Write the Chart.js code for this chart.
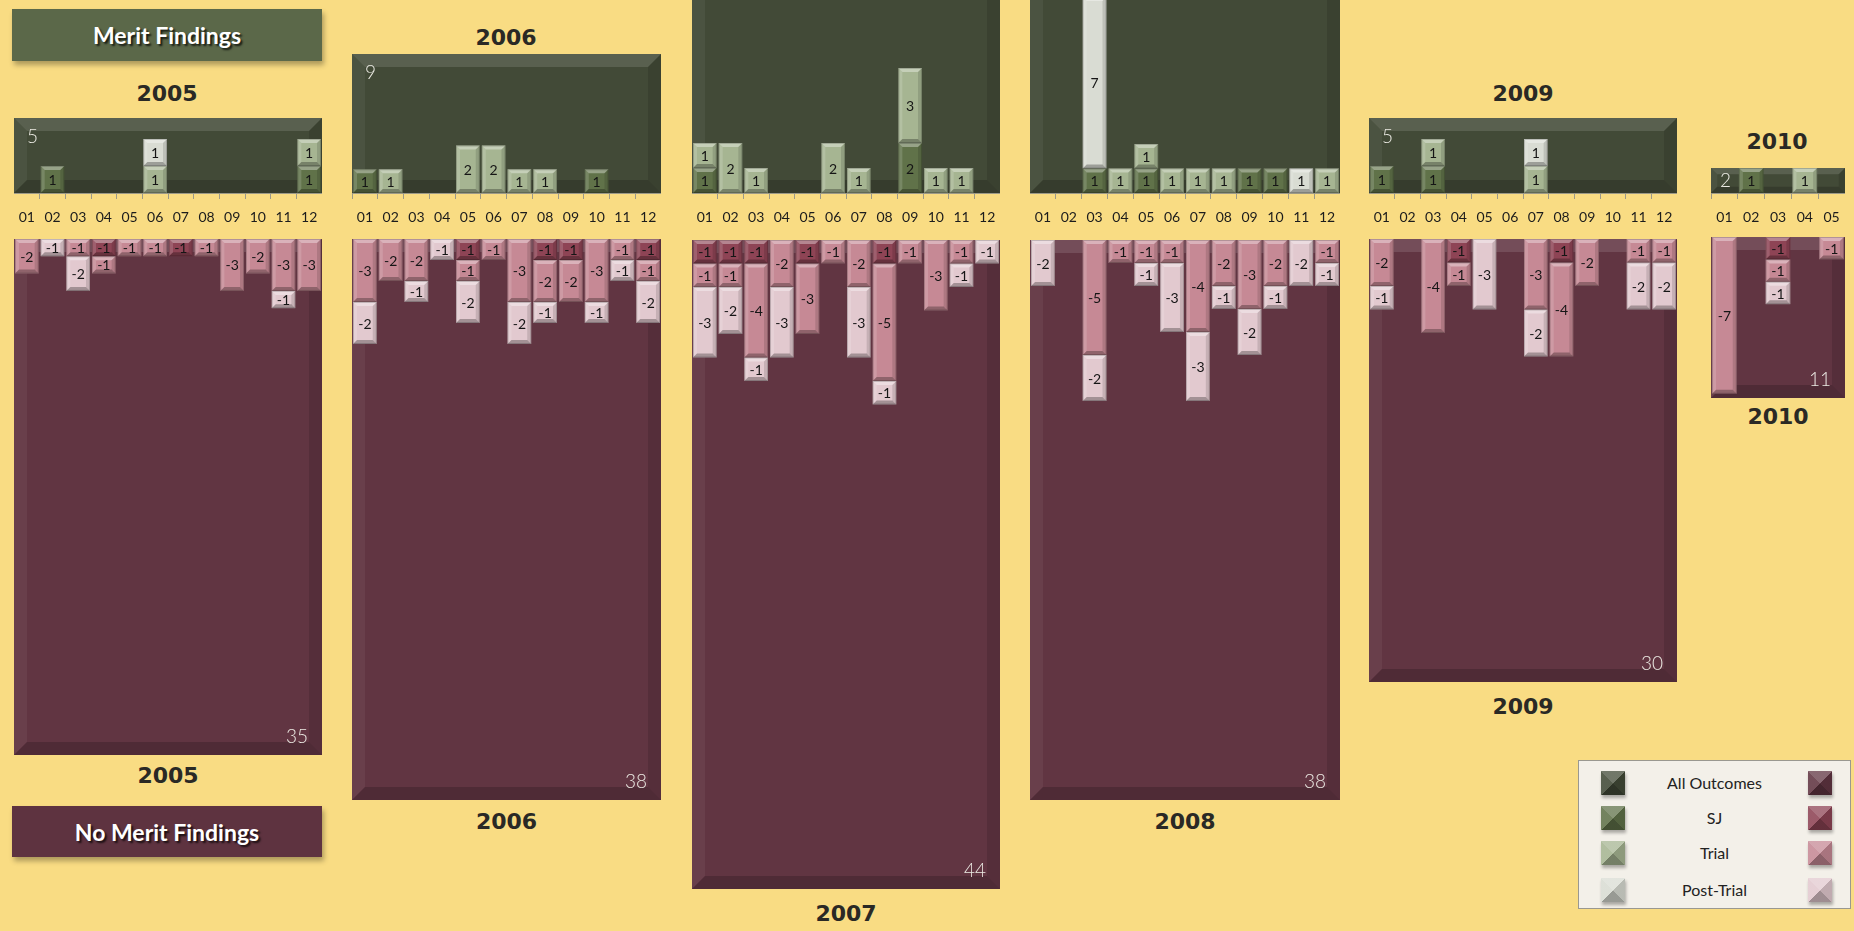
<!DOCTYPE html>
<html>
<head>
<meta charset="utf-8">
<title>Merit / No Merit Findings</title>
<script src="https://cdn.jsdelivr.net/npm/chart.js@4.4.1/dist/chart.umd.min.js"></script>
<style>
    html, body { margin: 0; padding: 0; }
    body {
        width: 1854px; height: 931px; overflow: hidden;
        background: #f9dc83; position: relative;
        font-family: Lato, "Open Sans", sans-serif;
    }
    #stage { position: absolute; left: 0; top: 0; width: 1854px; height: 931px; }
    .titlebox {
        position: absolute; left: 12px; width: 310px;
        display: flex; align-items: center; justify-content: center;
        color: #fff; font: bold 23px Lato, sans-serif;
        text-shadow: 2px 2px 2px rgba(0,0,0,0.75);
        box-shadow: 2px 4px 5px rgba(0,0,0,0.3);
    }
    .year {
        position: absolute; transform: translate(-50%, -50%);
        font: bold 22px "DejaVu Sans", sans-serif; color: #2a2925;
    }
    #legend {
        position: absolute; left: 1578px; top: 760px; width: 273px; height: 149px;
        background: #f3f0e9; border: 1px solid #9a9890; box-sizing: border-box;
    }
    #legend .row { position: absolute; left: 0; width: 100%; height: 26px; }
    #legend .sw {
        position: absolute; top: 0; width: 24px; height: 24px;
        box-shadow: 1px 3px 3px rgba(0,0,0,0.3);
    }
    #legend .lbl {
        position: absolute; left: 60px; right: 60px; top: 2px; text-align: center;
        font: 16px Lato, sans-serif; color: #222;
    }
</style>
</head>
<body>
<div id="stage">
    <div class="titlebox" style="top:9px;height:52px;background:#5b6849;">Merit Findings</div>
    <div class="titlebox" style="top:806px;height:51px;background:#5e3340;">No Merit Findings</div>
    <div id="legend"></div>
</div>
<script>
// =========================================================================
// DATA
// =========================================================================
const YEARS = ['2005', '2006', '2007', '2008', '2009', '2010'];
const MONTHS = ['01', '02', '03', '04', '05', '06', '07', '08', '09', '10', '11', '12'];
const MONTHS_2010 = ['01', '02', '03', '04', '05'];

// "All Outcomes" totals (panel corner numbers)
const MERIT_TOTALS = [5, 9, 15, 18, 5, 2];
const NO_MERIT_TOTALS = [35, 38, 44, 38, 30, 11];

// Merit findings per month, one row per year
const MERIT_SJ = [
    [0, 1, 0, 0, 0, 0, 0, 0, 0, 0, 0, 1],
    [1, 0, 0, 0, 0, 0, 0, 0, 0, 1, 0, 0],
    [1, 0, 0, 0, 0, 0, 0, 0, 2, 0, 0, 0],
    [0, 0, 1, 0, 1, 0, 0, 0, 1, 1, 0, 0],
    [1, 0, 1, 0, 0, 0, 0, 0, 0, 0, 0, 0],
    [0, 1, 0, 0, 0]
];
const MERIT_TRIAL = [
    [0, 0, 0, 0, 0, 1, 0, 0, 0, 0, 0, 1],
    [0, 1, 0, 0, 2, 2, 1, 1, 0, 0, 0, 0],
    [1, 2, 1, 0, 0, 2, 1, 0, 3, 1, 1, 0],
    [0, 0, 0, 1, 1, 1, 1, 1, 0, 0, 0, 1],
    [0, 0, 1, 0, 0, 0, 1, 0, 0, 0, 0, 0],
    [0, 0, 0, 1, 0]
];
const MERIT_POST = [
    [0, 0, 0, 0, 0, 1, 0, 0, 0, 0, 0, 0],
    [0, 0, 0, 0, 0, 0, 0, 0, 0, 0, 0, 0],
    [0, 0, 0, 0, 0, 0, 0, 0, 0, 0, 0, 0],
    [0, 0, 7, 0, 0, 0, 0, 0, 0, 0, 1, 0],
    [0, 0, 0, 0, 0, 0, 1, 0, 0, 0, 0, 0],
    [0, 0, 0, 0, 0]
];

// No merit findings per month (shown as negatives)
const NO_MERIT_SJ = [
    [0, 0, 0, -1, 0, 0, -1, 0, 0, 0, 0, 0],
    [0, 0, 0, 0, -1, 0, 0, -1, -1, 0, 0, -1],
    [-1, -1, -1, 0, -1, 0, 0, -1, 0, 0, 0, 0],
    [0, 0, 0, 0, 0, 0, 0, 0, 0, 0, 0, 0],
    [0, 0, 0, -1, 0, 0, 0, -1, 0, 0, 0, 0],
    [0, 0, -1, 0, 0]
];
const NO_MERIT_TRIAL = [
    [-2, 0, -1, -1, -1, -1, 0, -1, -3, -2, -3, -3],
    [-3, -2, -2, 0, -1, -1, -3, -2, -2, -3, -1, -1],
    [-1, -1, -4, -2, -3, -1, -2, -5, -1, -3, -1, 0],
    [0, 0, -5, -1, -1, -1, -4, -2, -3, -2, 0, -1],
    [-2, 0, -4, -1, 0, 0, -3, -4, -2, 0, -1, -1],
    [-7, 0, -1, 0, -1]
];
const NO_MERIT_POST = [
    [0, -1, -2, 0, 0, 0, 0, 0, 0, 0, -1, 0],
    [-2, 0, -1, -1, -2, 0, -2, -1, 0, -1, -1, -2],
    [-3, -2, -1, -3, 0, 0, -3, -1, 0, 0, -1, -1],
    [-2, 0, -2, 0, -1, -3, -3, -1, -2, -1, -2, -1],
    [-1, 0, 0, 0, -3, 0, -2, 0, 0, 0, -2, -2],
    [0, 0, -1, 0, 0]
];

const LEGEND_LABELS = ['All Outcomes', 'SJ', 'Trial', 'Post-Trial'];

// =========================================================================
// LAYOUT / STYLE
// =========================================================================
const PANEL_LEFT = [14, 352, 692, 1030, 1369, 1711];
const PANEL_WIDTH = [308, 309, 308, 310, 308, 134];
const AXIS_Y = 193;
const AXIS_SPACE = 40;
const TOP_HEIGHT = [75, 139, 231, 277, 75, 25];
const BOTTOM_TOP = [239, 239, 240, 240, 239, 237];
const BOTTOM_HEIGHT = [516, 561, 649, 560, 443, 161];
const TOP_UNIT_PX = [27, 23.7, 25, 24.5, 27, 25];
const BOTTOM_UNIT_PX = [17.3, 21, 23.5, 23, 23.5, 22.4];
const TOP_LABEL_POS = [[167, 93], [506, 37], null, null, [1523, 93], [1777, 141]];
const BOTTOM_LABEL_Y = [775, 821, 913, 821, 706, 416];

const GREEN = { panel: '#424a37', sj: '#607249', trial: '#a6b592', post: '#d9dcd3' };
const MAROON = { panel: '#613542', sj: '#8e4455', trial: '#c68995', post: '#e2c9cf' };

// =========================================================================
// DRAW HELPERS
// =========================================================================
function shade(a) {
    return a >= 0 ? `rgba(255,255,255,${a})` : `rgba(0,0,0,${-a})`;
}

function drawBevel(ctx, l, t, r, b, size, tones) {
    const s = Math.min(size, (r - l) / 2, (b - t) / 2);
    const faces = [
        [[l, t], [r, t], [r - s, t + s], [l + s, t + s], tones[0]],
        [[l, t], [l + s, t + s], [l + s, b - s], [l, b], tones[1]],
        [[r, t], [r, b], [r - s, b - s], [r - s, t + s], tones[2]],
        [[l, b], [r, b], [r - s, b - s], [l + s, b - s], tones[3]]
    ];
    faces.forEach(f => {
        ctx.beginPath();
        ctx.moveTo(f[0][0], f[0][1]);
        for (let k = 1; k < 4; k++) ctx.lineTo(f[k][0], f[k][1]);
        ctx.closePath();
        ctx.fillStyle = shade(f[4]);
        ctx.fill();
    });
}

// Panel background = "All Outcomes" area, plus bevels and labels on bars
const panelPlugin = {
    id: 'panelPlugin',
    beforeDraw(chart, args, opts) {
        const { ctx, chartArea: a } = chart;
        ctx.save();
        ctx.fillStyle = opts.color;
        ctx.fillRect(a.left, a.top, a.right - a.left, a.bottom - a.top);
        const s = Math.min(13, (a.bottom - a.top) / 4);
        drawBevel(ctx, a.left, a.top, a.right, a.bottom, s, [0.12, 0.05, -0.12, -0.18]);
        ctx.restore();
    },
    afterDatasetsDraw(chart, args, opts) {
        const { ctx, chartArea: a } = chart;
        ctx.save();
        chart.data.datasets.forEach((ds, di) => {
            const meta = chart.getDatasetMeta(di);
            meta.data.forEach((el, i) => {
                const v = ds.data[i];
                if (v === null || v === undefined) return;
                const p = el.getProps(['x', 'y', 'base', 'width'], true);
                const l = p.x - p.width / 2, r = p.x + p.width / 2;
                const t = Math.min(p.y, p.base), b = Math.max(p.y, p.base);
                drawBevel(ctx, l, t, r, b, 4, [0.35, 0.15, -0.12, -0.28]);
                ctx.strokeStyle = 'rgba(0,0,0,0.18)';
                ctx.lineWidth = 1;
                ctx.strokeRect(l + 0.5, t + 0.5, r - l - 1, b - t - 1);
                ctx.fillStyle = '#151515';
                ctx.font = '14px Lato, sans-serif';
                ctx.textAlign = 'center';
                ctx.textBaseline = 'middle';
                ctx.fillText(String(v), p.x, (t + b) / 2 + 1);
            });
        });
        // total in panel corner
        ctx.fillStyle = '#ecebe4';
        ctx.font = '300 19px Lato, sans-serif';
        ctx.textBaseline = opts.corner === 'top' ? 'top' : 'bottom';
        ctx.textAlign = opts.corner === 'top' ? 'left' : 'right';
        const small = (a.bottom - a.top) < 40;
        if (opts.corner === 'top') {
            ctx.fillText(String(opts.total), a.left + (small ? 9 : 13), a.top + (small ? 3 : 9));
        } else {
            ctx.fillText(String(opts.total), a.right - 14, a.bottom - 9);
        }
        ctx.restore();
    }
};

function addCanvas(left, top, width, height) {
    const c = document.createElement('canvas');
    c.width = width;
    c.height = height;
    c.style.cssText = `position:absolute;left:${left}px;top:${top}px;width:${width}px;height:${height}px;`;
    document.getElementById('stage').appendChild(c);
    return c;
}

function addText(cls, x, y, text) {
    const d = document.createElement('div');
    d.className = cls;
    d.style.left = x + 'px';
    d.style.top = y + 'px';
    d.textContent = text;
    document.getElementById('stage').appendChild(d);
}

function toBars(arr) {
    return arr.map(v => (v === 0 ? null : v));
}

function datasets(sj, trial, post, pal) {
    return [
        { label: 'SJ', data: toBars(sj), backgroundColor: pal.sj },
        { label: 'Trial', data: toBars(trial), backgroundColor: pal.trial },
        { label: 'Post-Trial', data: toBars(post), backgroundColor: pal.post }
    ].map(d => Object.assign(d, { borderWidth: 0, barPercentage: 0.92, categoryPercentage: 1.0 }));
}

// =========================================================================
// CHARTS
// =========================================================================
function buildTop(i) {
    const h = TOP_HEIGHT[i];
    const canvas = addCanvas(PANEL_LEFT[i], AXIS_Y - h, PANEL_WIDTH[i], h + AXIS_SPACE);
    const labels = YEARS[i] === '2010' ? MONTHS_2010 : MONTHS;
    return new Chart(canvas.getContext('2d'), {
        type: 'bar',
        data: { labels: labels, datasets: datasets(MERIT_SJ[i], MERIT_TRIAL[i], MERIT_POST[i], GREEN) },
        options: {
            responsive: false,
            animation: false,
            layout: { padding: 0 },
            plugins: {
                legend: { display: false },
                tooltip: { enabled: false },
                panelPlugin: { color: GREEN.panel, total: MERIT_TOTALS[i], corner: 'top' }
            },
            scales: {
                x: {
                    stacked: true,
                    offset: true,
                    grid: { offset: true, drawOnChartArea: false, drawTicks: true, tickLength: 6, color: '#9d9a88' },
                    border: { display: true, color: '#9d9a88' },
                    ticks: { color: '#1c1c1c', font: { family: 'Lato', size: 14 }, padding: 10, autoSkip: false, maxRotation: 0 },
                    afterFit: (scale) => {
                        scale.height = AXIS_SPACE;
                        scale.paddingLeft = 0;
                        scale.paddingRight = 0;
                    }
                },
                y: { stacked: true, display: false, min: 0, max: h / TOP_UNIT_PX[i] }
            }
        },
        plugins: [panelPlugin]
    });
}

function buildBottom(i) {
    const h = BOTTOM_HEIGHT[i];
    const canvas = addCanvas(PANEL_LEFT[i], BOTTOM_TOP[i], PANEL_WIDTH[i], h);
    const labels = YEARS[i] === '2010' ? MONTHS_2010 : MONTHS;
    return new Chart(canvas.getContext('2d'), {
        type: 'bar',
        data: { labels: labels, datasets: datasets(NO_MERIT_SJ[i], NO_MERIT_TRIAL[i], NO_MERIT_POST[i], MAROON) },
        options: {
            responsive: false,
            animation: false,
            layout: { padding: 0 },
            plugins: {
                legend: { display: false },
                tooltip: { enabled: false },
                panelPlugin: { color: MAROON.panel, total: NO_MERIT_TOTALS[i], corner: 'bottom' }
            },
            scales: {
                x: { stacked: true, display: false, offset: true },
                y: { stacked: true, display: false, min: -h / BOTTOM_UNIT_PX[i], max: 0 }
            }
        },
        plugins: [panelPlugin]
    });
}

function buildLegend() {
    const box = document.getElementById('legend');
    const left = [GREEN.panel, GREEN.sj, GREEN.trial, GREEN.post];
    const right = [MAROON.panel, MAROON.sj, MAROON.trial, MAROON.post];
    const rowTop = [10, 45, 80, 117];
    LEGEND_LABELS.forEach((lbl, k) => {
        const row = document.createElement('div');
        row.className = 'row';
        row.style.top = rowTop[k] + 'px';
        const sw = (c, x) => `<span class="sw" style="left:${x}px;background:` +
            `conic-gradient(from -45deg, color-mix(in srgb, ${c} 75%, white) 0 90deg, color-mix(in srgb, ${c} 85%, black) 90deg 180deg, color-mix(in srgb, ${c} 70%, black) 180deg 270deg, color-mix(in srgb, ${c} 88%, white) 270deg);"></span>`;
        row.innerHTML = sw(left[k], 22) + `<span class="lbl">${lbl}</span>` + sw(right[k], 229);
        box.appendChild(row);
    });
}

function initCharts() {
    YEARS.forEach((y, i) => {
        buildTop(i);
        buildBottom(i);
        if (TOP_LABEL_POS[i]) addText('year', TOP_LABEL_POS[i][0], TOP_LABEL_POS[i][1], y);
        addText('year', PANEL_LEFT[i] + PANEL_WIDTH[i] / 2, BOTTOM_LABEL_Y[i], y);
    });
    buildLegend();
}

initCharts();
</script>
</body>
</html>
